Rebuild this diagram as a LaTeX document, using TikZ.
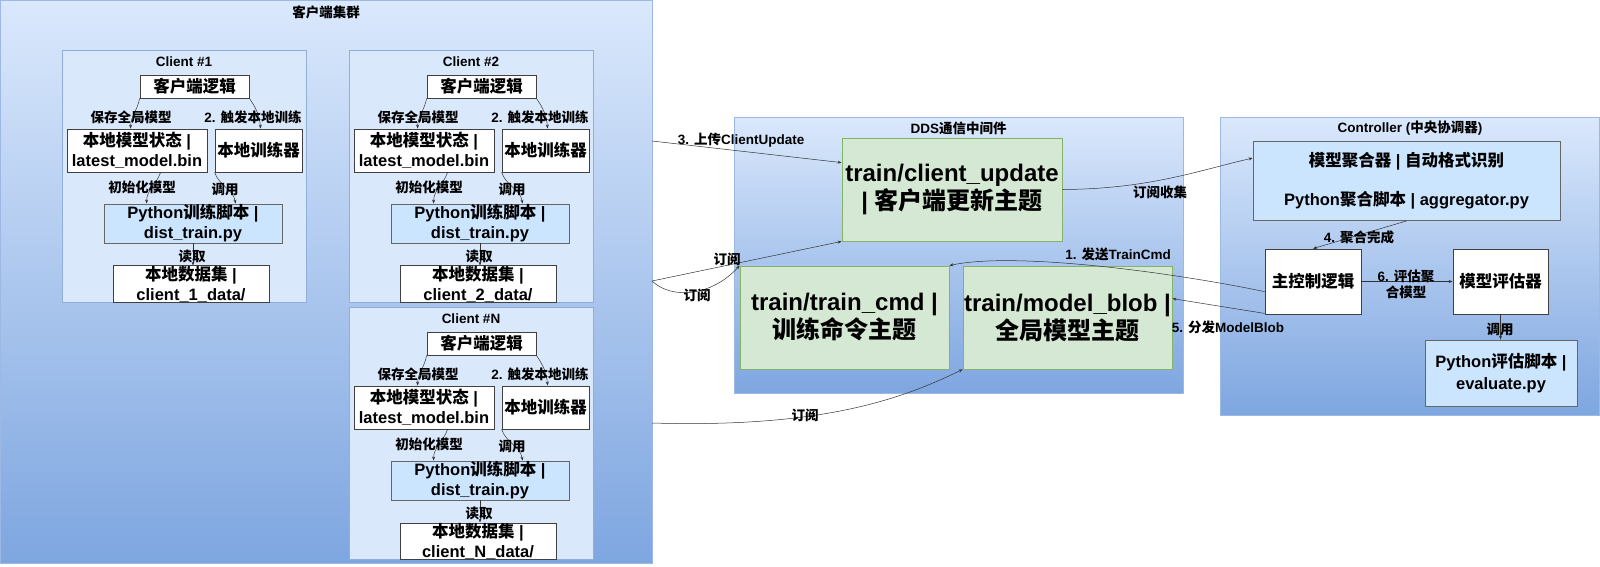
\documentclass[tikz,border=0pt]{standalone}
\usepackage{fontspec}
\setmainfont{Liberation Sans}
\newfontfamily\cjkfont{Noto Sans CJK SC}
\usetikzlibrary{arrows.meta,calc}
\XeTeXinterchartokenstate=1
\newXeTeXintercharclass\CJKcls
\newcount\cjkc
\cjkc="4E00
\loop \XeTeXcharclass\cjkc=\CJKcls \ifnum\cjkc<"9FFF \advance\cjkc by 1 \repeat
\XeTeXinterchartoks 0 \CJKcls = {\cjkfont}
\XeTeXinterchartoks 4095 \CJKcls = {\cjkfont}
\XeTeXinterchartoks \CJKcls 0 = {\rmfamily}
\XeTeXinterchartoks \CJKcls 4095 = {\rmfamily}

\definecolor{gtop}{HTML}{DAE8FC}
\definecolor{gbot}{HTML}{7EA6E0}
\definecolor{gborder}{HTML}{9DB8E2}
\definecolor{clfill}{HTML}{DAE8FC}
\definecolor{clborder}{HTML}{8FAEDB}
\definecolor{grfill}{HTML}{D5E8D4}
\definecolor{grborder}{HTML}{82B366}
\definecolor{pyfill}{HTML}{CCE5FF}
\definecolor{boxborder}{HTML}{404040}
\definecolor{linecol}{HTML}{333333}

\newcommand\ttlfont{\fontsize{13.5}{16}\selectfont\bfseries}
\newcommand\boxfont{\fontsize{16.5}{20}\selectfont\bfseries}
\newcommand\topicfont{\fontsize{24}{28}\selectfont\bfseries}

\tikzset{
  rect/.style 2 args={rectangle, minimum width=#1pt, minimum height=#2pt, inner sep=0pt},
  grad/.style={draw=gborder, line width=0.8pt, top color=gtop, bottom color=gbot},
  clientbox/.style={draw=clborder, line width=0.8pt, fill=clfill},
  whitebox/.style={draw=boxborder, line width=0.8pt, fill=white, align=center, font=\boxfont},
  pybox/.style={draw=boxborder!80, line width=0.8pt, fill=pyfill, align=center, font=\boxfont},
  topicbox/.style={draw=grborder, line width=0.8pt, fill=grfill, align=center, font=\topicfont},
  ttl/.style={font=\ttlfont, inner sep=0pt, align=center},
  lbl/.style={font=\ttlfont, inner sep=0pt, align=center},
  arr/.style={draw=linecol, line width=0.5pt, -{Stealth[length=4pt,width=3pt]}},
}

\newcommand\clientgroup[5]{%
\begin{scope}[shift={(#2,#3)}]
\node[clientbox, rect={244}{252}] (#1box) at (184,176) {};
\node[ttl] (#1title) at (184,62) {#4};
\node[whitebox, rect={109}{23}] (#1logic) at (194.5,86.5) {客户端逻辑};
\node[whitebox, rect={140}{43}] (#1state) at (137,150.5) {本地模型状态 |\\latest\_model.bin};
\node[whitebox, rect={87}{43}] (#1trainer) at (258.5,150.5) {本地训练器};
\node[pybox, rect={178}{39}] (#1py) at (193,223.5) {Python训练脚本 |\\dist\_train.py};
\node[whitebox, rect={156}{36}] (#1data) at (191,284) {本地数据集 |\\client\_#5\_data/};
\draw[arr] (#1logic.south west) to[out=-100,in=90] ($(#1state.north west)+(64,0)$);
\draw[arr] (#1logic.south east) to[out=-55,in=95] ($(#1trainer.north west)+(46,0)$);
\draw[arr] ($(#1state.south west)+(94,0)$) to[out=-110,in=90] ($(#1py.north west)+(43,0)$);
\draw[arr] (#1trainer.south west) to[out=-70,in=100] ($(#1py.north west)+(132,0)$);
\draw[arr] (#1py.south) -- (#1py.south |- #1data.north);
\node[lbl] (#1l1) at (131,117) {保存全局模型};
\node[lbl] (#1l2) at (253,117) {2. 触发本地训练};
\node[lbl] (#1l3) at (142,187) {初始化模型};
\node[lbl] (#1l4) at (225,189) {调用};
\node[lbl] (#1l5) at (192,256) {读取};
\end{scope}}

\begin{document}
\begin{tikzpicture}[x=1pt,y=-1pt]
\useasboundingbox (0,0) rectangle (1600,566);
% client cluster
\node[grad, rect={651.5}{563}] (cluster) at (326.25,282) {};
\node[ttl] (clustertitle) at (326,12) {客户端集群};
\clientgroup{a}{0}{0}{Client \#1}{1}
\clientgroup{b}{287}{0}{Client \#2}{2}
\clientgroup{n}{287}{257}{Client \#N}{N}

% DDS middleware
\node[grad, rect={449}{276}] (dds) at (958.5,255) {};
\node[ttl] (ddstitle) at (958.5,128) {DDS通信中间件};
\node[topicbox, rect={220}{103}] (cu) at (952,189.5) {train/client\_update\\| 客户端更新主题};
\node[topicbox, rect={209}{103}] (tc) at (844.5,317.5) {train/train\_cmd |\\训练命令主题};
\node[topicbox, rect={209}{103}] (mb) at (1067.5,317.5) {train/model\_blob |\\全局模型主题};

% Controller
\node[grad, rect={379}{298}] (ctrl) at (1409.5,266) {};
\node[ttl] (ctrltitle) at (1410,128) {Controller (中央协调器)};
\node[pybox, rect={307}{79}] (agg) at (1406.5,181) {模型聚合器 | 自动格式识别\\[19pt]Python聚合脚本 | aggregator.py};
\node[whitebox, rect={96}{65}] (main) at (1313,281.5) {主控制逻辑};
\node[whitebox, rect={95}{65}] (eval) at (1500.5,281.5) {模型评估器};
\node[pybox, rect={152}{66}] (pyeval) at (1501,373) {Python评估脚本 |\\[2pt]evaluate.py};

% connectors cluster <-> DDS
\coordinate (k3) at (652,141);
\coordinate (k2) at (652,281);
\coordinate (k4) at (652,423);
\draw[arr] (k3) -- ($(cu.north west)+(0,25)$);
\node[lbl] (l3) at (741,140) {3. 上传ClientUpdate};
\draw[arr] (k2) -- (cu.south west);
\node[lbl] (ls1) at (727,259) {订阅};
\draw[arr] (k2) .. controls (672,300) and (712,296) .. (tc.north west);
\node[lbl] (ls2) at (697,295) {订阅};
\draw[arr] (k4) .. controls (820,428) and (900,400) .. (mb.south west);
\node[lbl] (ls3) at (805,415) {订阅};

% DDS <-> controller
\draw[arr] (cu.east) .. controls (1150,189) and (1200,170) .. ($(agg.north west)+(0,17)$);
\node[lbl] (lcol) at (1160,192) {订阅收集};
\draw[arr] ($(main.north west)+(0,43)$) .. controls (1160,270) and (1010,252) .. (tc.north east);
\node[lbl] (l1) at (1118,254) {1. 发送TrainCmd};
\draw[arr] ($(main.south west)+(0,-1)$) -- ($(mb.north east)+(0,33)$);
\node[lbl] (l5) at (1228,327) {5. 分发ModelBlob};

% inside controller
\draw[arr] ($(agg.south west)+(154,0)$) -- (main.north);
\node[lbl] (l4) at (1359,237) {4. 聚合完成};
\draw[arr] (main.east) -- (eval.west);
\node[lbl] (l6) at (1406,284) {6. 评估聚\\合模型};
\draw[arr] (eval.south) -- (eval.south |- pyeval.north);
\node[lbl] (lcall) at (1500,329) {调用};
\end{tikzpicture}
\end{document}
